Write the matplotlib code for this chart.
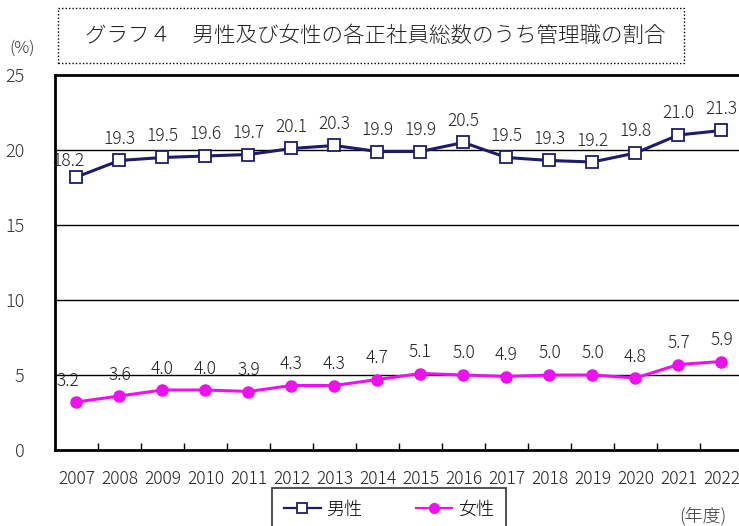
import matplotlib.pyplot as plt
import matplotlib.patches as patches

plt.rcParams['font.family'] = ['Noto Sans CJK JP', 'DejaVu Sans']
plt.rcParams['font.weight'] = 'light'

years = ["2007", "2008", "2009", "2010", "2011", "2012", "2013", "2014",
         "2015", "2016", "2017", "2018", "2019", "2020", "2021", "2022"]
male = [18.2, 19.3, 19.5, 19.6, 19.7, 20.1, 20.3, 19.9,
        19.9, 20.5, 19.5, 19.3, 19.2, 19.8, 21.0, 21.3]
female = [3.2, 3.6, 4.0, 4.0, 3.9, 4.3, 4.3, 4.7,
          5.1, 5.0, 4.9, 5.0, 5.0, 4.8, 5.7, 5.9]
yticks = [0, 5, 10, 15, 20, 25]

W, H = 739, 526
fig = plt.figure(figsize=(W / 100, H / 100), dpi=100)
ax = fig.add_axes([55 / W, 76 / H, 688 / W, 375 / H])

x = list(range(len(years)))
navy = "#1c1c6a"
mag = "#ee10ee"

ax.plot(x, male, color=navy, lw=2.2, marker="s", ms=9, mfc="white",
        mec=navy, mew=1.3, label="男性", zorder=4)
ax.plot(x, female, color=mag, lw=2.2, marker="o", ms=8, mfc=mag,
        mec=mag, label="女性", zorder=4)

for i in x:
    dx = -6 if i == 0 else 0
    dy = 5 if i == 0 else 9
    ax.annotate(f"{male[i]:.1f}", (i, male[i]), xytext=(dx, dy),
                textcoords="offset points", ha="center", va="bottom",
                fontsize=12.5, color="#222222", zorder=5)
    ax.annotate(f"{female[i]:.1f}", (i, female[i]), xytext=(dx, 9),
                textcoords="offset points", ha="center", va="bottom",
                fontsize=12.5, color="#222222", zorder=5)

ax.set_xlim(-0.5, len(years) - 0.5)
ax.set_ylim(0, 25)
ax.set_yticks(yticks)
ax.set_yticklabels([str(v) for v in yticks], fontsize=13, color="#333333")
for v in yticks[1:-1]:
    ax.axhline(v, color="black", lw=1.0, zorder=1)

ax.set_xticks([i + 0.5 for i in x[:-1]])
ax.set_xticklabels([])
ax.tick_params(axis="x", direction="in", length=5, width=1)
ax.tick_params(axis="y", length=0, pad=22)
for i, yr in enumerate(years):
    ax.text(i, -1.3, yr, ha="center", va="top", fontsize=12.5,
            color="#222222", transform=ax.transData)

for s in ["top", "left", "bottom"]:
    ax.spines[s].set_linewidth(2)
    ax.spines[s].set_color("black")
ax.spines["right"].set_visible(False)

# title box
fig.patches.append(patches.Rectangle((58 / W, 1 - 63 / H), 626 / W, 55 / H,
                                     transform=fig.transFigure, fill=False,
                                     ls=(0, (1, 1.5)), lw=1, ec="black"))
fig.text(375 / W, 1 - 36 / H, "グラフ４　男性及び女性の各正社員総数のうち管理職の割合",
         ha="center", va="center", fontsize=15.5, color="#222222")
fig.text(22 / W, 1 - 48 / H, "(%)", ha="center", va="center", fontsize=12,
         color="#333333")
fig.text(703 / W, 1 - 516 / H, "(年度)", ha="center", va="center",
         fontsize=13, color="#333333")

leg = fig.legend(loc="upper center", bbox_to_anchor=(389 / W, 1 - 488 / H),
                 ncol=2, frameon=True, fancybox=False, edgecolor="black",
                 handlelength=2.0, columnspacing=3.0,
                 borderpad=0.7, borderaxespad=0, handletextpad=0.3,
                 prop={'weight': 'light', 'size': 13})
leg.get_frame().set_linewidth(1.2)
for h in leg.get_lines():
    h.set_linewidth(1.6)
    h.set_markersize(7)

fig.savefig("out.png", dpi=100)
